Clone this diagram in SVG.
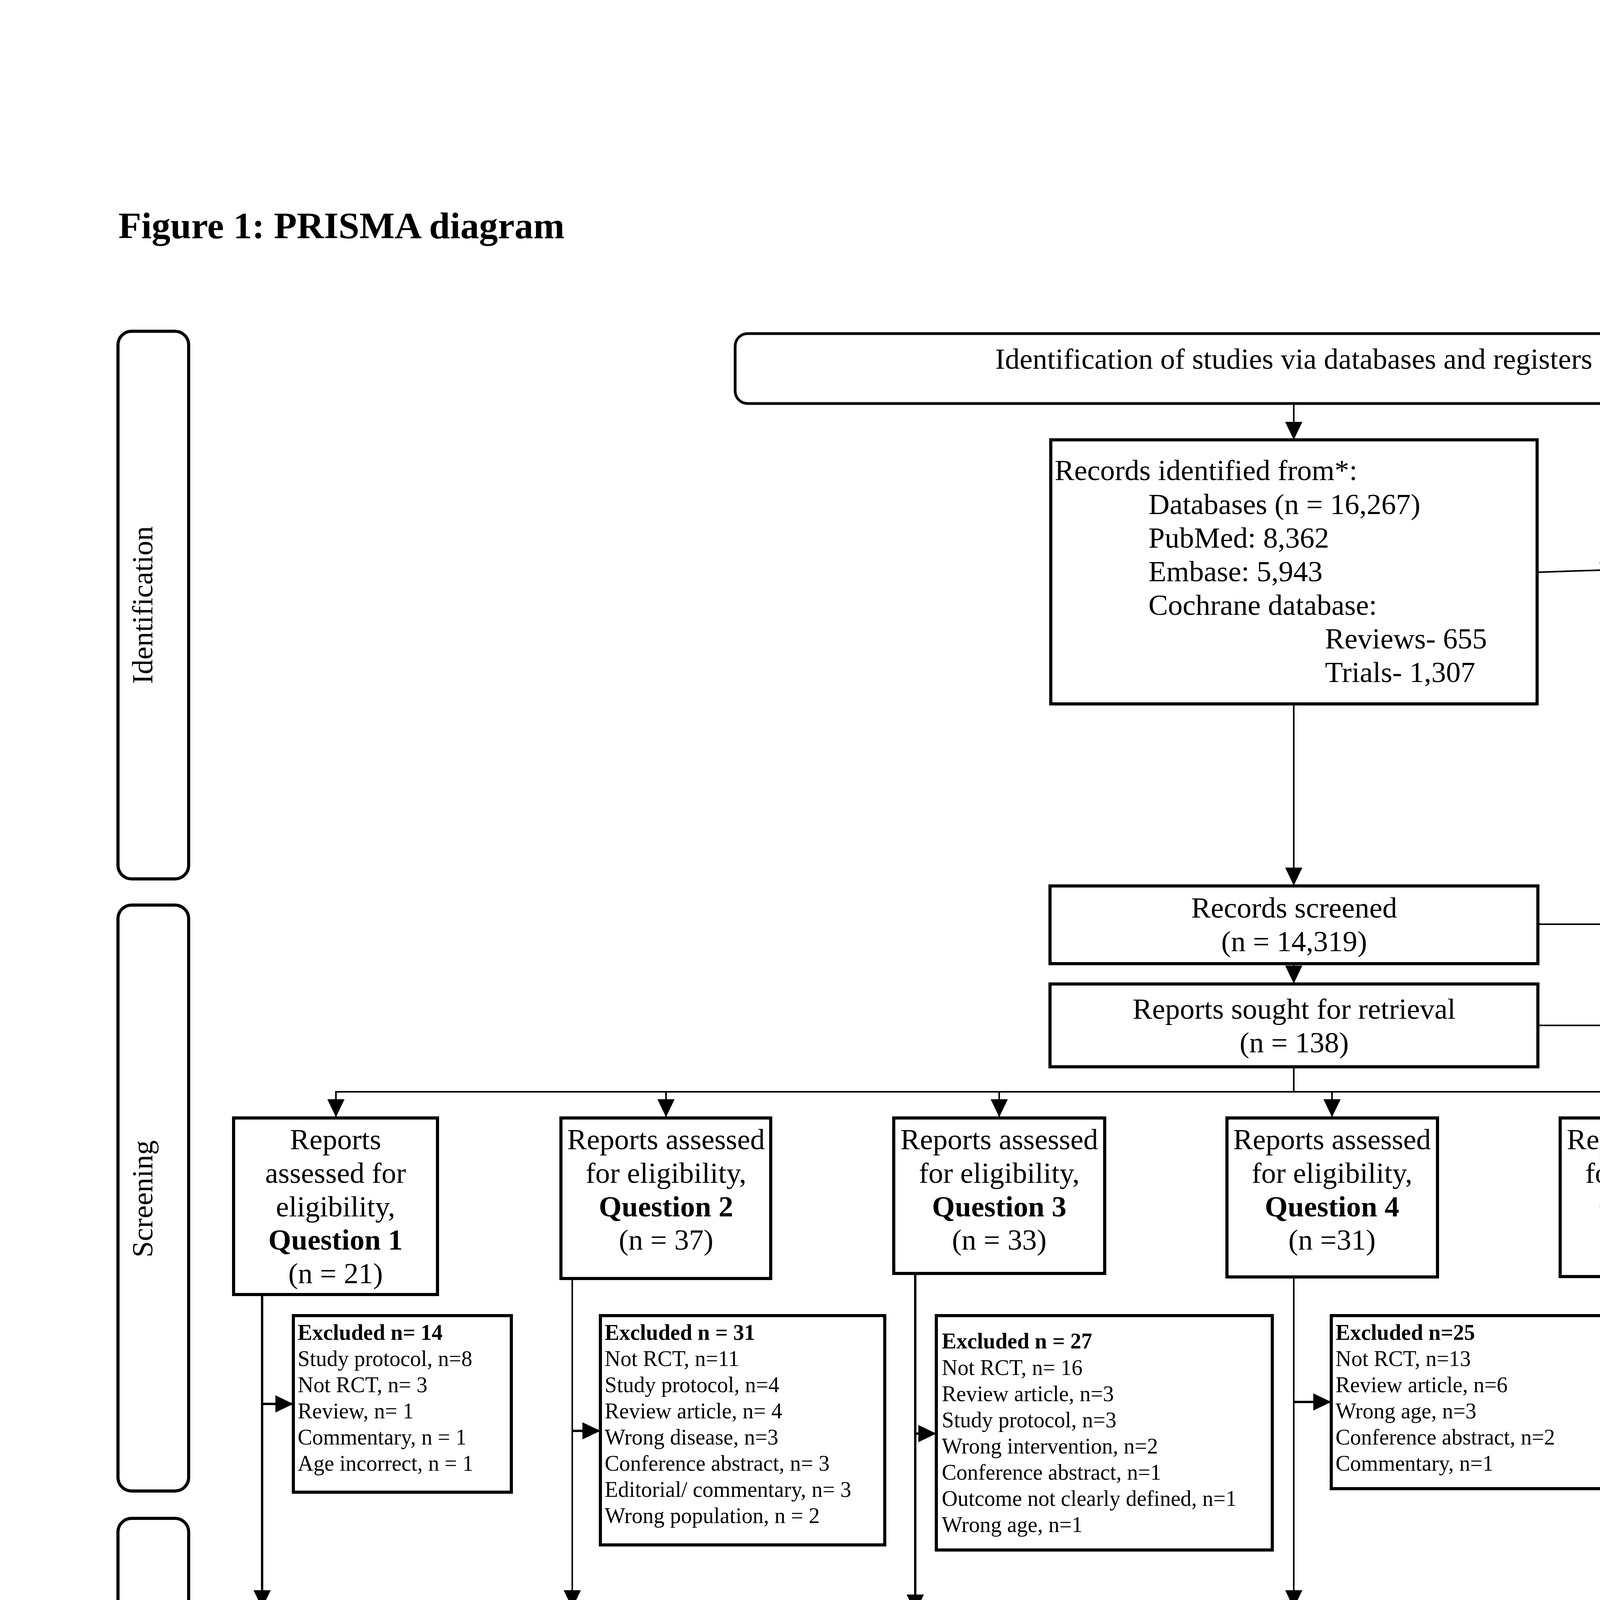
<svg xmlns="http://www.w3.org/2000/svg" width="6600" height="5100" viewBox="0 0 6600 5100">
<style>
text{font-family:"Liberation Serif","Times New Roman",serif;fill:#000}
.t{font-size:75px}
.c{text-anchor:middle}
.b{font-weight:bold}
.s{font-size:56px}
.box{fill:#fff;stroke:#000;stroke-width:8}
.stage{fill:#fff;stroke:#000;stroke-width:8}
.ln{fill:none;stroke:#000;stroke-width:4}
.lk{fill:none;stroke:#000;stroke-width:6}
</style>
<defs>
<marker id="ah" viewBox="0 0 10 10" refX="10" refY="5" markerWidth="46" markerHeight="44" markerUnits="userSpaceOnUse" orient="auto" preserveAspectRatio="none">
<path d="M0,0 L10,5 L0,10 z" fill="#000"/>
</marker>
</defs>
<rect width="6600" height="5100" fill="#fff"/>
<text id="title" x="303" y="610" class="b" style="font-size:96px">Figure 1: PRISMA diagram</text>

<g id="stage-identification">
<rect class="stage" x="302" y="848" width="181" height="1402" rx="35"/>
<text class="t c" transform="translate(390,1549) rotate(-90)">Identification</text>
</g>
<g id="stage-screening">
<rect class="stage" x="302" y="2317" width="181" height="1500" rx="35"/>
<text class="t c" transform="translate(390,3069) rotate(-90)">Screening</text>
</g>
<g id="stage-included">
<rect class="stage" x="302" y="3887" width="181" height="865" rx="35"/>
<text class="t c" transform="translate(390,4320) rotate(-90)">Included</text>
</g>

<g id="connectors">
<line class="ln" x1="3312" y1="1031" x2="3312" y2="1126" marker-end="url(#ah)"/>
<line class="ln" x1="3935" y1="1465" x2="4142" y2="1458" marker-end="url(#ah)"/>
<line class="ln" x1="3312" y1="1802" x2="3312" y2="2267" marker-end="url(#ah)"/>
<line class="ln" x1="3937" y1="2366" x2="4467" y2="2366" marker-end="url(#ah)"/>
<line class="ln" x1="3312" y1="2467" x2="3312" y2="2518" marker-end="url(#ah)"/>
<line class="ln" x1="3937" y1="2625" x2="4467" y2="2625" marker-end="url(#ah)"/>
<line class="ln" x1="3312" y1="2731" x2="3312" y2="2795"/>
<line class="ln" x1="858" y1="2795" x2="5974" y2="2795"/>
<line class="ln" x1="860" y1="2795" x2="860" y2="2860" marker-end="url(#ah)"/>
<line class="ln" x1="1705" y1="2795" x2="1705" y2="2860" marker-end="url(#ah)"/>
<line class="ln" x1="2558" y1="2795" x2="2558" y2="2860" marker-end="url(#ah)"/>
<line class="ln" x1="3410" y1="2795" x2="3410" y2="2860" marker-end="url(#ah)"/>
<line class="ln" x1="4266" y1="2795" x2="4266" y2="2860" marker-end="url(#ah)"/>
<line class="ln" x1="5117" y1="2795" x2="5117" y2="2860" marker-end="url(#ah)"/>
<line class="ln" x1="5972" y1="2795" x2="5972" y2="2860" marker-end="url(#ah)"/>
<line class="lk" x1="671" y1="3314" x2="671" y2="4117" marker-end="url(#ah)"/>
<line class="lk" x1="671" y1="3594" x2="751" y2="3594" marker-end="url(#ah)"/>
<line class="ln" x1="1465" y1="3273" x2="1465" y2="4117" marker-end="url(#ah)"/>
<line class="lk" x1="1465" y1="3663" x2="1537" y2="3663" marker-end="url(#ah)"/>
<line class="lk" x1="2343" y1="3250" x2="2343" y2="4128" marker-end="url(#ah)"/>
<line class="lk" x1="2343" y1="3670" x2="2397" y2="3670" marker-end="url(#ah)"/>
<line class="ln" x1="3312" y1="3269" x2="3312" y2="4117" marker-end="url(#ah)"/>
<line class="lk" x1="3312" y1="3589" x2="3408" y2="3589" marker-end="url(#ah)"/>
<line class="ln" x1="4340" y1="3268" x2="4340" y2="4108" marker-end="url(#ah)"/>
<line class="lk" x1="4340" y1="3598" x2="4407" y2="3598" marker-end="url(#ah)"/>
<line class="ln" x1="5117" y1="3285" x2="5117" y2="4128" marker-end="url(#ah)"/>
<line class="lk" x1="5117" y1="3452" x2="5213" y2="3452" marker-end="url(#ah)"/>
<line class="lk" x1="5771" y1="3279" x2="5771" y2="4108" marker-end="url(#ah)"/>
<line class="lk" x1="5771" y1="3525" x2="5857" y2="3525" marker-end="url(#ah)"/>
</g>

<g id="banner">
<rect x="1882" y="854" width="2861" height="179" rx="32" fill="#fff" stroke="#000" stroke-width="7"/>
<text class="t c" x="3312" y="944">Identification of studies via databases and registers</text>
</g>

<g id="records-identified">
<rect class="box" x="2690" y="1126" width="1245" height="676"/>
<text class="t" x="2700" y="1229">Records identified from*:</text>
<text class="t" x="2940" y="1316">Databases (n = 16,267)</text>
<text class="t" x="2940" y="1402">PubMed: 8,362</text>
<text class="t" x="2940" y="1488">Embase: 5,943</text>
<text class="t" x="2940" y="1574">Cochrane database:</text>
<text class="t" x="3392" y="1660">Reviews- 655</text>
<text class="t" x="3392" y="1746">Trials- 1,307</text>
</g>

<g id="records-removed">
<rect class="box" x="4142" y="1258" width="2077" height="401"/>
<text class="t" x="4153" y="1353">Records removed <tspan font-style="italic">before screening</tspan>:</text>
<text class="t" x="4395" y="1441">Duplicate records removed (n = 1,948)</text>
<text class="t" x="4395" y="1528">Records marked as ineligible by automation tools (n = 0)</text>
<text class="t" x="4395" y="1615">Records removed for other reasons (n = 0)</text>
</g>

<g id="records-screened">
<rect class="box" x="2688" y="2268" width="1249" height="199"/>
<text class="t c" x="3313" y="2349">Records screened</text>
<text class="t c" x="3313" y="2435">(n = 14,319)</text>
</g>
<g id="records-excluded">
<rect class="box" x="4467" y="2268" width="1249" height="199"/>
<text class="t c" x="5091" y="2349">Records excluded**</text>
<text class="t c" x="5091" y="2435">(n = 14,181)</text>
</g>
<g id="reports-sought">
<rect class="box" x="2688" y="2519" width="1249" height="212"/>
<text class="t c" x="3313" y="2608">Reports sought for retrieval</text>
<text class="t c" x="3313" y="2694">(n = 138)</text>
</g>
<g id="reports-not-retrieved">
<rect class="box" x="4467" y="2520" width="1249" height="210"/>
<text class="t c" x="5091" y="2608">Reports not retrieved</text>
<text class="t c" x="5091" y="2694">(n = 0)</text>
</g>

<g id="q1">
<rect class="box" x="598" y="2862" width="522" height="452"/>
<text class="t c" x="859" y="2942">Reports</text>
<text class="t c" x="859" y="3028">assessed for</text>
<text class="t c" x="859" y="3114">eligibility,</text>
<text class="t c b" x="859" y="3199">Question 1</text>
<text class="t c" x="859" y="3285">(n = 21)</text>
</g>
<g id="q2">
<rect class="box" x="1436" y="2862" width="537" height="411"/>
<text class="t c" x="1705" y="2942">Reports assessed</text>
<text class="t c" x="1705" y="3028">for eligibility,</text>
<text class="t c b" x="1705" y="3114">Question 2</text>
<text class="t c" x="1705" y="3199">(n = 37)</text>
</g>
<g id="q3">
<rect class="box" x="2288" y="2862" width="540" height="398"/>
<text class="t c" x="2558" y="2942">Reports assessed</text>
<text class="t c" x="2558" y="3028">for eligibility,</text>
<text class="t c b" x="2558" y="3114">Question 3</text>
<text class="t c" x="2558" y="3199">(n = 33)</text>
</g>
<g id="q4">
<rect class="box" x="3141" y="2862" width="539" height="407"/>
<text class="t c" x="3410" y="2942">Reports assessed</text>
<text class="t c" x="3410" y="3028">for eligibility,</text>
<text class="t c b" x="3410" y="3114">Question 4</text>
<text class="t c" x="3410" y="3199">(n =31)</text>
</g>
<g id="q5">
<rect class="box" x="3994" y="2862" width="540" height="406"/>
<text class="t c" x="4264" y="2942">Reports assessed</text>
<text class="t c" x="4264" y="3028">for eligibility,</text>
<text class="t c b" x="4264" y="3114">Question 5</text>
<text class="t c" x="4264" y="3199">(n = 8)</text>
</g>
<g id="q6">
<rect class="box" x="4846" y="2862" width="541" height="423"/>
<text class="t c" x="5117" y="2942">Reports assessed</text>
<text class="t c" x="5117" y="3028">for eligibility,</text>
<text class="t c b" x="5117" y="3114">Question 6</text>
<text class="t c" x="5117" y="3199">(n = 0)</text>
</g>
<g id="q7">
<rect class="box" x="5702" y="2862" width="539" height="417"/>
<text class="t c" x="5972" y="2942">Reports assessed</text>
<text class="t c" x="5972" y="3028">for eligibility,</text>
<text class="t c b" x="5972" y="3114">Question 7</text>
<text class="t c" x="5972" y="3199">(n = 8)</text>
</g>

<g id="ex1">
<rect class="box" x="751" y="3368" width="558" height="452"/>
<text class="s b" x="762" y="3430">Excluded n= 14</text>
<text class="s" x="762" y="3497">Study protocol, n=8</text>
<text class="s" x="762" y="3564">Not RCT, n= 3</text>
<text class="s" x="762" y="3631">Review, n= 1</text>
<text class="s" x="762" y="3698">Commentary, n = 1</text>
<text class="s" x="762" y="3765">Age incorrect, n = 1</text>
</g>
<g id="ex2">
<rect class="box" x="1537" y="3368" width="728" height="587"/>
<text class="s b" x="1548" y="3430">Excluded n = 31</text>
<text class="s" x="1548" y="3497">Not RCT, n=11</text>
<text class="s" x="1548" y="3564">Study protocol, n=4</text>
<text class="s" x="1548" y="3631">Review article, n= 4</text>
<text class="s" x="1548" y="3698">Wrong disease, n=3</text>
<text class="s" x="1548" y="3765">Conference abstract, n= 3</text>
<text class="s" x="1548" y="3832">Editorial/ commentary, n= 3</text>
<text class="s" x="1548" y="3899">Wrong population, n = 2</text>
</g>
<g id="ex3">
<rect class="box" x="2397" y="3368" width="860" height="600"/>
<text class="s b" x="2411" y="3452">Excluded n = 27</text>
<text class="s" x="2411" y="3520">Not RCT, n= 16</text>
<text class="s" x="2411" y="3587">Review article, n=3</text>
<text class="s" x="2411" y="3654">Study protocol, n=3</text>
<text class="s" x="2411" y="3721">Wrong intervention, n=2</text>
<text class="s" x="2411" y="3788">Conference abstract, n=1</text>
<text class="s" x="2411" y="3855">Outcome not clearly defined, n=1</text>
<text class="s" x="2411" y="3922">Wrong age, n=1</text>
</g>
<g id="ex4">
<rect class="box" x="3408" y="3368" width="828" height="443"/>
<text class="s b" x="3419" y="3430">Excluded n=25</text>
<text class="s" x="3419" y="3497">Not RCT, n=13</text>
<text class="s" x="3419" y="3564">Review article, n=6</text>
<text class="s" x="3419" y="3631">Wrong age, n=3</text>
<text class="s" x="3419" y="3698">Conference abstract, n=2</text>
<text class="s" x="3419" y="3765">Commentary, n=1</text>
</g>
<g id="ex5">
<rect class="box" x="4407" y="3368" width="636" height="461"/>
<text class="s b" x="4418" y="3447">Excluded n=7</text>
<text class="s" x="4418" y="3515">Review article, n=3</text>
<text class="s" x="4418" y="3582">Commentary, n=1</text>
<text class="s" x="4418" y="3649">Trial protocol, n=1</text>
<text class="s" x="4418" y="3716">Wrong intervention, n=1</text>
<text class="s" x="4418" y="3783">Wrong age, n=1</text>
</g>
<g id="ex6">
<rect class="box" x="5213" y="3368" width="472" height="165"/>
<text class="s" x="5225" y="3430">Not applicable</text>
</g>
<g id="ex7">
<rect class="box" x="5857" y="3368" width="470" height="312"/>
<text class="s b" x="5868" y="3443">Excluded n=8</text>
<text class="s" x="5868" y="3510">Reasons:</text>
<text class="s" x="5868" y="3577">Review, n=4</text>
<text class="s" x="5868" y="3644">Guidelines, n=4</text>
</g>

<g id="inc1">
<rect class="box" x="512" y="4117" width="670" height="401"/>
<text class="t c" x="847" y="4211">Studies included in</text>
<text class="t c" x="847" y="4296">review (n = 7)</text>
<text class="t c b" x="847" y="4381">Reports of included</text>
<text class="t c b" x="847" y="4466">studies (n = 7)</text>
</g>
<g id="inc2">
<rect class="box" x="1369" y="4117" width="670" height="520"/>
<text class="t c" x="1704" y="4227">Studies included</text>
<text class="t c" x="1704" y="4313">in review (n = 6)</text>
<text class="t c b" x="1704" y="4399">Reports of</text>
<text class="t c b" x="1704" y="4485">included studies</text>
<text class="t c b" x="1704" y="4571">(n = 6)</text>
</g>
<g id="inc3">
<rect class="box" x="2226" y="4117" width="672" height="509"/>
<text class="t c" x="2562" y="4222">Studies included</text>
<text class="t c" x="2562" y="4308">in review (n = 6)</text>
<text class="t c b" x="2562" y="4394">Reports of</text>
<text class="t c b" x="2562" y="4480">included studies</text>
<text class="t c b" x="2562" y="4566">(n = 6)</text>
</g>
<g id="inc4">
<rect class="box" x="3085" y="4117" width="670" height="501"/>
<text class="t c" x="3420" y="4217">Studies included</text>
<text class="t c" x="3420" y="4303">in review (n = 6)</text>
<text class="t c b" x="3420" y="4389">Reports of</text>
<text class="t c b" x="3420" y="4475">included studies</text>
<text class="t c b" x="3420" y="4561">(n = 6)</text>
</g>
<g id="inc5">
<rect class="box" x="3944" y="4117" width="670" height="557"/>
<text class="t c" x="4279" y="4244">Studies included</text>
<text class="t c" x="4279" y="4330">in review (n = 1)</text>
<text class="t c b" x="4279" y="4416">Reports of</text>
<text class="t c b" x="4279" y="4502">included studies</text>
<text class="t c b" x="4279" y="4588">(n = 1)</text>
</g>
<g id="inc6">
<rect class="box" x="4801" y="4117" width="672" height="547"/>
<text class="t c" x="5137" y="4238">Studies included</text>
<text class="t c" x="5137" y="4324">in review (n = 0)</text>
<text class="t c b" x="5137" y="4410">Reports of</text>
<text class="t c b" x="5137" y="4496">included studies</text>
<text class="t c b" x="5137" y="4582">(n = 0)</text>
</g>
<g id="inc7">
<rect class="box" x="5659" y="4117" width="672" height="517"/>
<text class="t c" x="5995" y="4222">Studies included</text>
<text class="t c" x="5995" y="4308">in review (n = 0)</text>
<text class="t c b" x="5995" y="4394">Reports of</text>
<text class="t c b" x="5995" y="4480">included studies</text>
<text class="t c b" x="5995" y="4566">(n = 0)</text>
</g>
</svg>
